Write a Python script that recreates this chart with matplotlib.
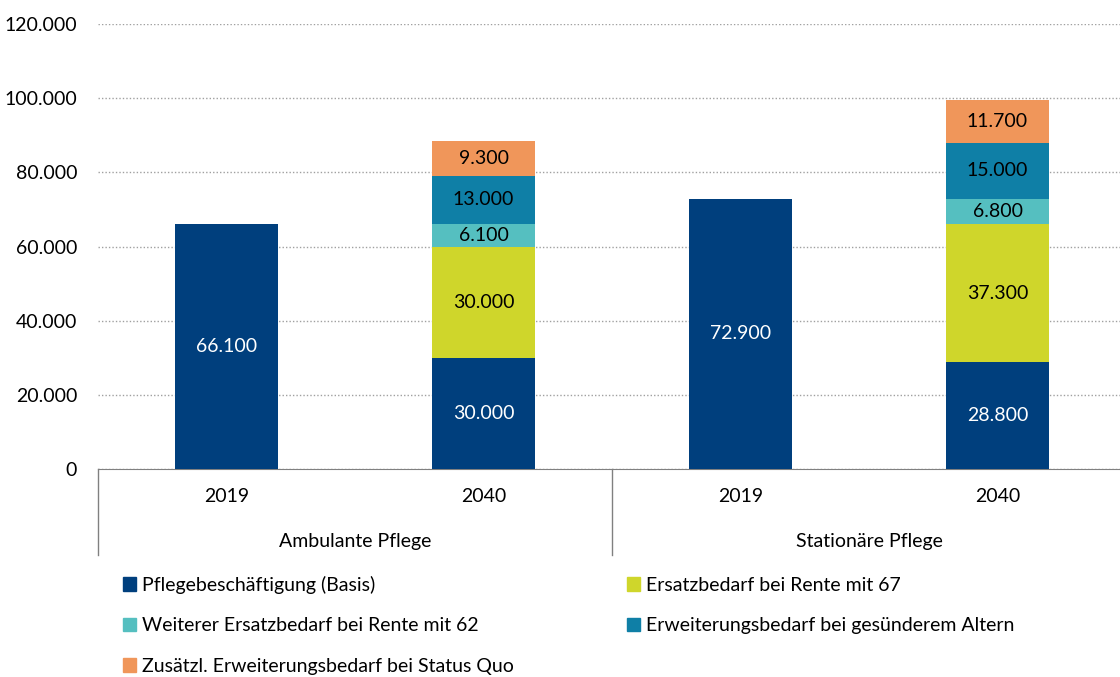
import matplotlib.pyplot as plt
from matplotlib.patches import Patch
from matplotlib.transforms import blended_transform_factory
import numpy as np

plt.rcParams['font.family'] = ['Lato', 'DejaVu Sans']

# Daten
years = ['2019', '2040', '2019', '2040']
groups = ['Ambulante Pflege', 'Stationäre Pflege']
series = ['Pflegebeschäftigung (Basis)', 'Ersatzbedarf bei Rente mit 67',
          'Weiterer Ersatzbedarf bei Rente mit 62', 'Erweiterungsbedarf bei gesünderem Altern',
          'Zusätzl. Erweiterungsbedarf bei Status Quo']
basis = [66100, 30000, 72900, 28800]
rente67 = [0, 30000, 0, 37300]
rente62 = [0, 6100, 0, 6800]
gesuender = [0, 13000, 0, 15000]
status_quo = [0, 9300, 0, 11700]
colors = ['#003f7d', '#cfd62b', '#55bfc0', '#0f7fa6', '#f0965a']
text_colors = ['white', 'black', 'black', 'black', 'black']

fig = plt.figure(figsize=(11.2, 6.77), dpi=100)
ax = fig.add_axes([98 / 1120, 208 / 677, 1028 / 1120, 445 / 677])

x = np.arange(len(years))
bottom = np.zeros(len(years))
for vals, col, tc in zip([basis, rente67, rente62, gesuender, status_quo], colors, text_colors):
    vals = np.array(vals)
    ax.bar(x, vals, 0.4, bottom=bottom, color=col, zorder=3)
    for xi, b, v in zip(x, bottom, vals):
        if v > 0:
            ax.text(xi, b + v / 2, f'{v:,}'.replace(',', '.'), ha='center', va='center',
                    fontsize=14, color=tc, zorder=4)
    bottom += vals

ax.set_xlim(-0.5, 3.5)
ax.set_ylim(0, 120000)
ax.set_yticks(range(0, 120001, 20000))
ax.set_yticklabels([f'{v:,}'.replace(',', '.') for v in range(0, 120001, 20000)], fontsize=14)
ax.yaxis.grid(True, linestyle=(0, (1, 1.5)), color='#a0a0a0', linewidth=1, zorder=0)
ax.tick_params(axis='y', length=0, pad=15)
ax.tick_params(axis='x', length=0)
ax.set_xticks(x)
ax.set_xticklabels(years, fontsize=14)
ax.tick_params(axis='x', pad=14)
for s in ['top', 'right', 'left']:
    ax.spines[s].set_visible(False)
ax.spines['bottom'].set_color('#808080')

trans = blended_transform_factory(ax.transData, ax.transAxes)
for xs in [-0.5, 1.5, 3.5]:
    ax.plot([xs, xs], [0, -86 / 445], transform=trans, color='#808080', lw=1, clip_on=False)
for i, g in enumerate(groups):
    ax.text(2 * i + 0.5, -72 / 445, g, transform=trans, ha='center', va='center', fontsize=14)

handles = [Patch(color=c) for c in colors]
order = [0, 2, 4, 1, 3]
fig.legend([handles[i] for i in order], [series[i] for i in order], ncol=2,
           loc='upper left', bbox_to_anchor=(115 / 1120, 1 - 568 / 677), frameon=False,
           fontsize=14, handlelength=0.7, handleheight=0.7, handletextpad=0.3,
           labelspacing=1.2, columnspacing=5.8, borderaxespad=0)

fig.savefig('out.png', dpi=100)
